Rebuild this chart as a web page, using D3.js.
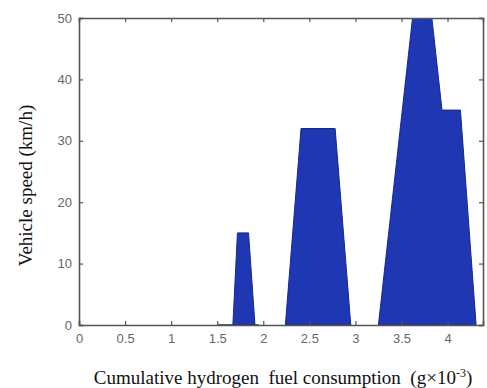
<!DOCTYPE html>
<html>
<head>
<meta charset="utf-8">
<script src="https://cdn.jsdelivr.net/npm/d3@7"></script>
<style>
  body { margin: 0; background: #fff; }
  svg { display: block; }
</style>
</head>
<body>
<div id="chart"></div>
<script>
const width = 487;
const height = 388;
const margin = { top: 18, right: 4, bottom: 63, left: 79 };

// cumulative fuel (g x 10^-3) and speed (km/h), one array pair per hump
const fuel1 = [1.50, 1.67, 1.72, 1.84, 1.91, 1.95];
const speed1 = [0, 0, 15, 15, 0, 0];
const fuel2 = [2.24, 2.41, 2.78, 2.95];
const speed2 = [0, 32, 32, 0];
const fuel3 = [3.25, 3.62, 3.83, 3.94, 4.14, 4.31];
const speed3 = [0, 50, 50, 35, 35, 0];

const xTicks = [0, 0.5, 1, 1.5, 2, 2.5, 3, 3.5, 4];
const yTicks = [0, 10, 20, 30, 40, 50];

const humps = [
    d3.zip(fuel1, speed1),
    d3.zip(fuel2, speed2),
    d3.zip(fuel3, speed3)
];

const x = d3.scaleLinear().domain([0, 4.385]).range([margin.left, width - margin.right]);
const y = d3.scaleLinear().domain([0, 50]).range([height - margin.bottom, margin.top]);

const svg = d3.select("#chart").append("svg")
    .attr("width", width)
    .attr("height", height);

svg.append("defs").append("clipPath").attr("id", "plotClip")
    .append("rect")
    .attr("x", margin.left).attr("y", margin.top)
    .attr("width", x.range()[1] - margin.left)
    .attr("height", y.range()[0] - margin.top);

const area = d3.area()
    .x(d => x(d[0]))
    .y0(y(0))
    .y1(d => y(d[1]));

svg.append("g")
    .attr("clip-path", "url(#plotClip)")
    .selectAll("path")
    .data(humps)
    .join("path")
    .attr("d", area)
    .attr("fill", "#1f37b2")
    .attr("stroke", "#16288a")
    .attr("stroke-width", 1);

// axes, MATLAB style: grey box with inward ticks
const axisColor = "#555";
const tickFont = "'Liberation Sans', Arial, sans-serif";

const axBottom = svg.append("g")
    .attr("transform", `translate(0,${y(0)})`)
    .call(d3.axisBottom(x).tickValues(xTicks).tickSize(-4).tickPadding(9).tickFormat(d3.format("")));
const axLeft = svg.append("g")
    .attr("transform", `translate(${margin.left},0)`)
    .call(d3.axisLeft(y).tickValues(yTicks).tickSize(-4).tickPadding(7));
const axTop = svg.append("g")
    .attr("transform", `translate(0,${margin.top})`)
    .call(d3.axisTop(x).tickValues(xTicks).tickSize(-4).tickFormat(""));
const axRight = svg.append("g")
    .attr("transform", `translate(${x.range()[1]},0)`)
    .call(d3.axisRight(y).tickValues(yTicks).tickSize(-4).tickFormat(""));

[axBottom, axLeft, axTop, axRight].forEach(g => {
    g.select(".domain").attr("stroke", axisColor).attr("stroke-width", 1.6);
    g.selectAll(".tick line").attr("stroke", axisColor).attr("stroke-width", 1.2);
    g.selectAll(".tick text")
        .attr("fill", "#666")
        .style("font-family", tickFont)
        .style("font-size", "13px");
});

svg.append("text")
    .attr("transform", `translate(32,${(margin.top + y(0)) / 2 + 14}) rotate(-90)`)
    .attr("text-anchor", "middle")
    .style("font-family", "'Liberation Serif', 'Times New Roman', serif")
    .style("font-size", "19px")
    .attr("fill", "#111")
    .text("Vehicle speed (km/h)");

const xLabel = svg.append("text")
    .attr("x", 283)
    .attr("y", 384)
    .attr("text-anchor", "middle")
    .style("font-family", "'Liberation Serif', 'Times New Roman', serif")
    .style("font-size", "19px")
    .attr("fill", "#111")
    .attr("xml:space", "preserve");
xLabel.append("tspan").text("Cumulative hydrogen  fuel consumption  (g×10");
xLabel.append("tspan").attr("dy", -7).style("font-size", "12px").text("-3");
xLabel.append("tspan").attr("dy", 7).text(")");
</script>
</body>
</html>
